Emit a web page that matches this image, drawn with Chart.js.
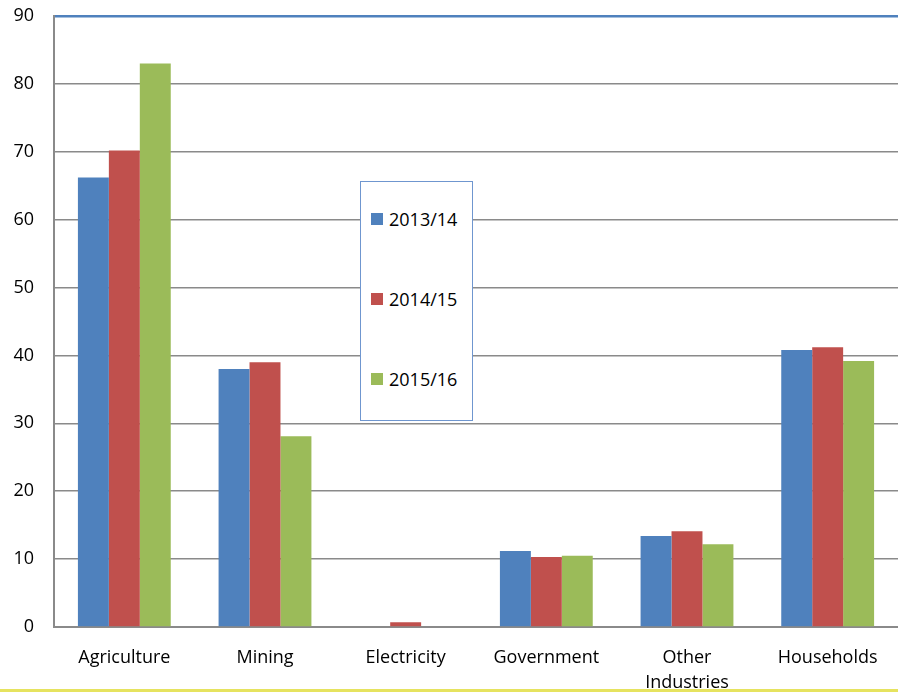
<!DOCTYPE html>
<html>
<head>
<meta charset="utf-8">
<script src="https://cdn.jsdelivr.net/npm/chart.js@4/dist/chart.umd.min.js"></script>
<style>
  html,body{margin:0;padding:0;background:#fff}
  #wrap{position:relative;width:898px;height:693px;overflow:hidden}
  #footline{position:absolute;left:0;top:689px;width:898px;height:3px;background:#e6e35f}
  #legend{position:absolute;left:360px;top:181px;width:111px;height:238px;border:1.5px solid #6f96cf;background:#fff;
    font-family:"Open Sans",sans-serif;font-size:18px;color:#000}
  .item{position:absolute;left:10px;display:flex;align-items:center}
  .sw{width:12px;height:12px;margin-right:6px}
</style>
</head>
<body>
<div id="wrap">
  <canvas id="c" width="898" height="693"></canvas>
  <div id="legend"></div>
  <div id="footline"></div>
</div>
<script>
const categories = ['Agriculture','Mining','Electricity','Government',['Other','Industries'],'Households']
const seriesNames = ['2013/14','2014/15','2015/16']
const v2013 = [66.2, 38.0, 0, 11.2, 13.4, 40.8]
const v2014 = [70.2, 39.0, 0.7, 10.3, 14.1, 41.2]
const v2015 = [83.0, 28.1, 0, 10.5, 12.2, 39.2]
const colors = ['#4f81bd','#c0504d','#9bbb59']
const yTicks = [0,10,20,30,40,50,60,70,80,90]

const font = {family:'"Open Sans", sans-serif', size:18, lineHeight:1.4}

new Chart(document.getElementById('c'), {
  type:'bar',
  data:{
    labels:categories,
    datasets:[v2013,v2014,v2015].map((d,i)=>({
      label:seriesNames[i], data:d, backgroundColor:colors[i],
      categoryPercentage:0.66, barPercentage:1, borderWidth:0
    }))
  },
  options:{
    responsive:false, animation:false,
    layout:{padding:{top:16,right:0,left:0,bottom:0}},
    plugins:{legend:{display:false},tooltip:{enabled:false}},
    scales:{
      x:{
        grid:{display:false},
        border:{color:'#8a8a8a',width:2},
        ticks:{color:'#000',font,padding:10,maxRotation:0,autoSkip:false},
        afterFit:s=>{s.height=66}
      },
      y:{
        min:0,max:90,
        afterBuildTicks:s=>{s.ticks=yTicks.map(v=>({value:v}))},
        grid:{color:c=>c.tick && c.tick.value===90?'#4f81bd':'#8a8a8a',lineWidth:c=>c.tick && c.tick.value===90?2.5:1.5,drawTicks:false},
        border:{color:'#8a8a8a',width:2},
        ticks:{color:'#000',font:{family:'"Open Sans", sans-serif',size:18},padding:20},
        afterFit:s=>{s.width=54; s.paddingTop=0; s.paddingBottom=0}
      }
    }
  }
})

const legendEl = document.getElementById('legend')
seriesNames.forEach((n,i)=>{
  const it = document.createElement('div')
  it.className='item'
  it.style.top = (25 + i*80) + 'px'
  it.innerHTML = `<span class="sw" style="background:${colors[i]}"></span><span>${n}</span>`
  legendEl.appendChild(it)
})
</script>
</body>
</html>
